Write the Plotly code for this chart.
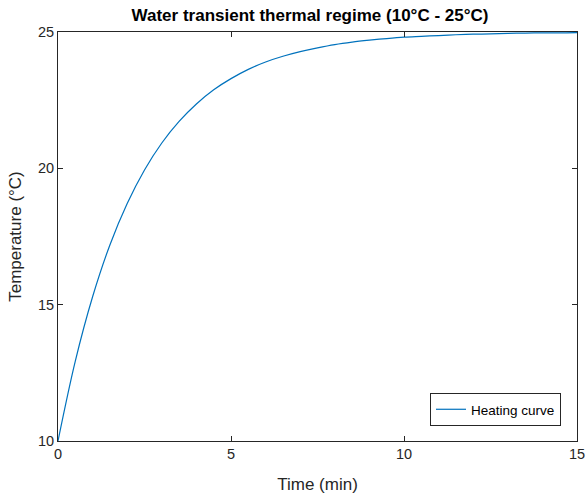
import plotly.graph_objects as go

# Water temperature during heating (time in minutes, temperature in °C)
time_min = [0, 0.5, 1, 1.5, 2, 2.5, 3, 3.5, 4, 4.5, 5, 5.5, 6, 6.5, 7, 7.5,
            8, 8.5, 9, 9.5, 10, 10.5, 11, 11.5, 12, 12.5, 13, 13.5, 14, 14.5, 15]
temperature_c = [10.00, 12.93, 15.29, 17.19, 18.71, 19.94, 20.93, 21.72, 22.36,
                 22.88, 23.29, 23.63, 23.90, 24.11, 24.28, 24.42, 24.54, 24.63,
                 24.70, 24.76, 24.81, 24.84, 24.87, 24.90, 24.92, 24.93, 24.95,
                 24.96, 24.97, 24.97, 24.98]
x_ticks = [0, 5, 10, 15]
y_ticks = [10, 15, 20, 25]

AXIS_COLOR = "#262626"
FONT = "Liberation Sans, Arial, sans-serif"

fig = go.Figure()
fig.add_trace(go.Scatter(
    x=time_min, y=temperature_c, mode="lines", name="Heating curve",
    line=dict(color="#0072BD", width=1.2, shape="spline"),
))

axis_common = dict(
    showgrid=False, zeroline=False, showline=True, mirror="ticks",
    linecolor=AXIS_COLOR, linewidth=1, ticks="inside", ticklen=5,
    tickcolor=AXIS_COLOR, tickwidth=1, automargin=False,
    tickfont=dict(family=FONT, size=14.5, color=AXIS_COLOR),
)

fig.update_layout(
    width=587, height=496,
    margin=dict(l=58, r=10, t=32, b=55),
    paper_bgcolor="white", plot_bgcolor="white",
    title=dict(
        text="<b>Water transient thermal regime (10°C - 25°C)</b>",
        x=310 / 587, xanchor="center", y=1 - 15 / 496, yanchor="middle",
        font=dict(family=FONT, size=17, color="#000000"),
    ),
    xaxis=dict(range=[0, 15], tickvals=x_ticks,
               title=dict(text="Time (min)", standoff=16,
                          font=dict(family=FONT, size=17, color=AXIS_COLOR)),
               **axis_common),
    yaxis=dict(range=[10, 25], tickvals=y_ticks,
               title=dict(text="Temperature (°C)", standoff=12,
                          font=dict(family=FONT, size=17, color=AXIS_COLOR)),
               **axis_common),
    showlegend=True,
    legend=dict(
        x=(561 - 58) / 519, xanchor="right", y=(441 - 426) / 409, yanchor="bottom",
        bordercolor=AXIS_COLOR, borderwidth=1, bgcolor="white",
        font=dict(family=FONT, size=13.5, color="#000000"),
        tracegroupgap=0,
    ),
)

fig.write_html("out.html")
